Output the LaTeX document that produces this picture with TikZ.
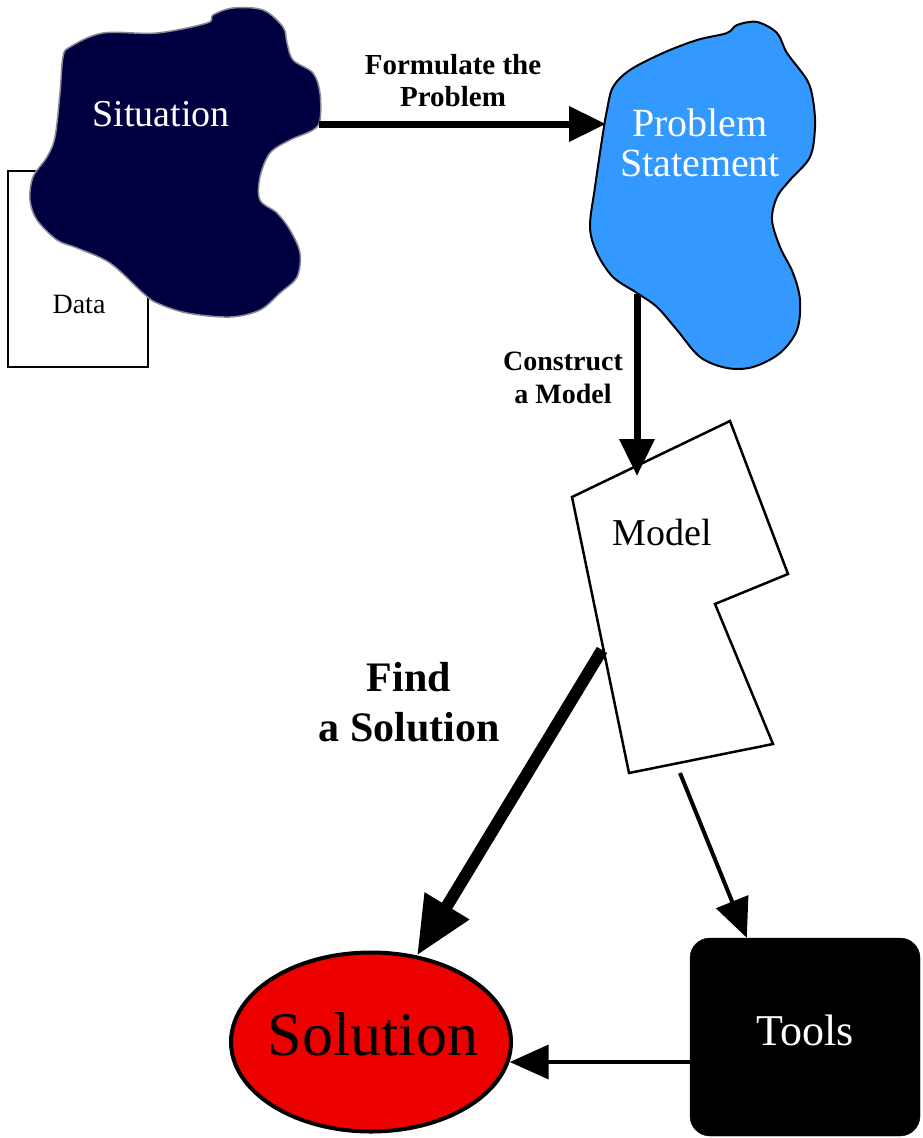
\documentclass[tikz,border=0pt]{standalone}
\usepackage{fontspec}
\setmainfont{Liberation Serif}
\usetikzlibrary{arrows.meta,shapes.geometric}

\definecolor{sitnavy}{RGB}{0,0,64}
\definecolor{sitedge}{RGB}{136,136,150}
\definecolor{psblue}{RGB}{51,153,255}
\definecolor{solred}{RGB}{236,0,0}

\tikzset{
  fs/.style={font=\fontsize{#1}{#1}\selectfont},
  steplabel/.style n args={2}{font=\bfseries\fontsize{#1}{#2}\selectfont, align=center, inner sep=0pt},
  linkA/.style={line width=7pt, -{Triangle[length=37pt,width=34pt]}},
  linkB/.style={line width=12pt, -{Triangle[length=58pt,width=49pt]}},
  linkC/.style={line width=4pt, -{Triangle[length=39pt,width=34pt]}},
}

\begin{document}
\begin{tikzpicture}[x=1pt,y=-1pt]
\useasboundingbox (0,0) rectangle (922,1138);

% data sheet behind the situation blob
\node[draw, line width=2pt, minimum width=140pt, minimum height=196pt, inner sep=0pt,
      anchor=north west] (data) at (7,170) {};
\node[fs=28, inner sep=0pt] (datat) at (79,304) {Data};

% situation blob
\filldraw[fill=sitnavy, draw=sitedge, line width=1.5pt]
  plot[smooth cycle, tension=0.55] coordinates {
    (63,57) (70,47) (103,33) (157,33) (207,23) (213,15) (233,8) (263,10)
    (283,27) (287,43) (293,60) (313,73) (320,93) (320,120) (313,130)
    (290,140) (270,153) (260,177) (260,200) (277,213) (290,230) (300,253)
    (297,277) (280,293) (260,310) (230,317) (187,313) (157,303) (143,293)
    (110,263) (77,248) (57,240) (37,220) (30,200) (33,177) (47,157)
    (55,137) (60,93)};
\node[fs=38, text=white, inner sep=0pt] (sit) at (161,114) {Situation};
\coordinate (sitE) at (319,124);

% problem statement blob
\filldraw[fill=psblue, draw=black, line width=2pt]
  plot[smooth cycle, tension=0.55] coordinates {
    (727,33) (737,25) (757,22) (777,33) (787,53) (807,80) (813,100)
    (815,127) (810,157) (790,180) (777,197) (772,220) (780,247) (793,273)
    (800,300) (797,330) (780,353) (753,367) (727,368) (700,357) (677,330)
    (657,307) (637,293) (613,277) (597,253) (590,227) (595,187) (603,133)
    (607,110) (613,87) (630,70) (663,53) (697,40)};
\node[text=white, align=center, inner sep=0pt,
      font=\fontsize{40}{40}\selectfont] (ps) at (700,143) {Problem\\Statement};
\coordinate (psW) at (606,124);
\coordinate (psS) at (637,294);

% model sheet
\filldraw[fill=white, draw=black, line width=2.5pt, line join=miter]
  (572,497) -- (730,421) -- (788,574) -- (715,604)
  -- (773,744) -- (629,773) -- cycle;
\node[fs=38, inner sep=0pt] (mdl) at (662,532) {Model};
\coordinate (mdlN) at (637,476);
\coordinate (mdlL) at (602,650);
\coordinate (mdlB) at (680,773);

% solution and tools
\node[ellipse, draw=black, fill=solred, line width=4pt, minimum width=280pt,
      minimum height=179pt, inner sep=0pt] (sol) at (371,1042) {};
\node[fs=62, inner sep=0pt] (solt) at (373,1034) {Solution};
\node[draw=black, fill=black, rounded corners=20pt, minimum width=230pt,
      minimum height=198pt, inner sep=0pt, text=white, fs=44,
      text depth=14pt] (tools) at (805,1037) {Tools};

% connectors
\draw[linkA] (sitE) -- (psW);
\draw[linkA] (psS) -- (mdlN);
\draw[linkB] (mdlL) -- (sol.62.6);
\draw[linkC] (mdlB) -- ([xshift=57pt]tools.north west);
\coordinate (toolsOut) at ([yshift=-25pt]tools.west);
\draw[linkC] (toolsOut) -- (toolsOut -| sol.-8);

% connector labels
\node[steplabel={29}{32}] (lblA) at (453,81) {Formulate the\\Problem};
\node[steplabel={28}{33}] (lblB) at (563,378) {Construct\\a Model};
\node[steplabel={42}{50}] (lblC) at (409,702) {Find\\a Solution};
\end{tikzpicture}
\end{document}
